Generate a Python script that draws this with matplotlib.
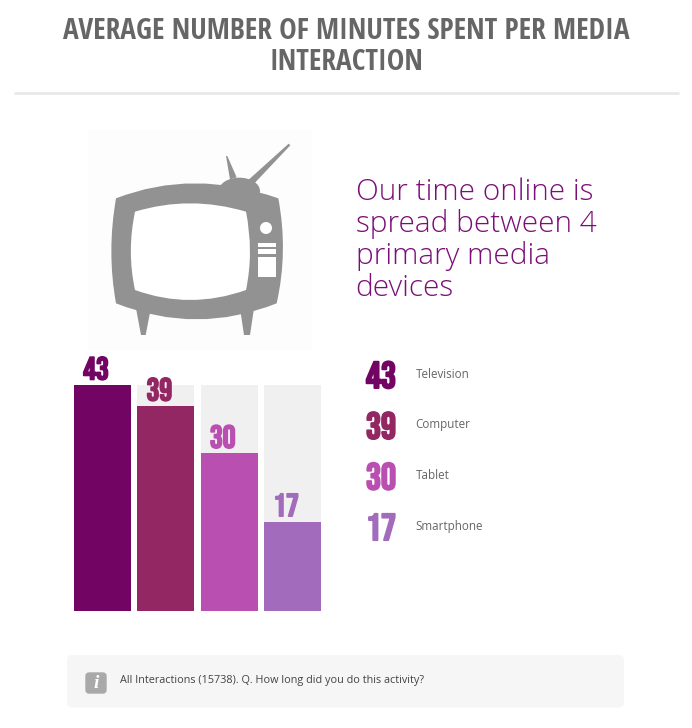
import matplotlib
matplotlib.use("Agg")
import matplotlib.pyplot as plt
import matplotlib.patheffects as pe
from matplotlib.patches import Polygon, Circle, Rectangle, PathPatch, FancyBboxPatch, Ellipse
from matplotlib.path import Path

categories = ["Television", "Computer", "Tablet", "Smartphone"]
values = [43, 39, 30, 17]
colors = ["#720464", "#932763", "#b94fb0", "#a36bbc"]
track = "#f0f0f0"
title = "AVERAGE NUMBER OF MINUTES SPENT PER MEDIA\nINTERACTION"
headline = "Our time online is\nspread between 4\nprimary media\ndevices"
footnote = "All Interactions (15738). Q. How long did you do this activity?"

W, H = 692, 728
fig = plt.figure(figsize=(W / 100, H / 100), dpi=100, facecolor="white")
bg = fig.add_axes([0, 0, 1, 1])
bg.set_xlim(0, W); bg.set_ylim(H, 0); bg.axis("off")

bg.text(346.5, 47, title, ha="center", va="center", family="Open Sans Condensed", weight="bold",
        fontsize=21.2, color="#666666", linespacing=1.08)
bg.plot([14, 679], [93, 93], color="#e8e8e8", lw=2, solid_capstyle="butt")

# television icon (zoomed crop coordinates -> pixels)
def z(pts):
    return [(x / 3 + 80, y / 3 + 130) for x, y in pts]
grey = "#929292"
bg.add_patch(Rectangle((88, 130), 224, 220, fc="#fdfdfd", ec="none"))
C3 = Path.CURVE3
outer = z([(108, 205), (340, 115), (595, 205), (625, 365), (590, 520), (350, 616), (108, 520), (80, 365), (108, 205)])
inner = z([(165, 245), (330, 195), (498, 245), (522, 365), (498, 480), (330, 540), (165, 480), (140, 365), (165, 245)])
codes = [Path.MOVETO, C3, C3, C3, C3, C3, C3, C3, C3]
for pts, fc in ((outer, grey), (inner, "white")):
    bg.add_patch(PathPatch(Path(pts, codes), fc=fc, ec="none", zorder=3 if fc == grey else 4))
bg.add_patch(Ellipse((478 / 3 + 80, 183 / 3 + 130), 124 / 3, 80 / 3, fc=grey, ec="none", zorder=3))
for poly in ([(438, 78), (442, 78), (470, 142), (450, 148)],
             [(626, 41), (631, 46), (525, 158), (505, 150)],
             [(168, 535), (210, 548), (197, 615), (183, 615)],
             [(482, 548), (522, 535), (510, 615), (492, 615)]):
    bg.add_patch(Polygon(z(poly), fc=grey, ec="none", zorder=3))
bg.add_patch(Circle(z([(558, 294)])[0], 6, fc="white", ec="none", zorder=4))
for y0, y1 in ((340, 352), (358, 371), (380, 442)):
    (x0, yy), = z([(535, y0)])
    bg.add_patch(Rectangle((x0, yy), 52 / 3, (y1 - y0) / 3, fc="white", ec="none", zorder=4))

bg.text(355.5, 240, headline, ha="left", va="center", family="Open Sans", weight="light",
        fontsize=21.4, color="#7b0f78", linespacing=1.1)

# bars
ax = fig.add_axes([74 / W, 1 - 611 / H, 247 / W, 226 / H])
ax.set_xlim(-0.45, 3.45); ax.set_ylim(0, 43); ax.axis("off")
xs = range(len(values))
ax.bar(xs, [max(values)] * len(values), width=0.9, color=track, zorder=1)
ax.bar(xs, values, width=0.9, color=colors, zorder=2)

for i, (v, c) in enumerate(zip(values, colors)):
    ax.annotate(str(v), (i, v), xytext=(-6.5, 5.5), textcoords="offset pixels",
                ha="center", va="bottom", family="Bebas Neue", fontsize=23, color=c, zorder=3,
                annotation_clip=False,
                path_effects=[pe.withStroke(linewidth=1.2, foreground=c)])

# legend list
for i, (cat, v, c) in enumerate(zip(categories, values, colors)):
    y = 374 + i * 50.7
    bg.text(381, y + 0.5, str(v), ha="center", va="center", family="Bebas Neue", fontsize=27, color=c,
            path_effects=[pe.withStroke(linewidth=1.4, foreground=c)])
    bg.text(415.5, y, cat, ha="left", va="center", family="Open Sans", fontsize=8.4, color="#666666")

# footer
bg.add_patch(FancyBboxPatch((69, 657), 553, 48.5, boxstyle="round,pad=0,rounding_size=3",
                            fc="#f6f6f6", ec="#f6f6f6", lw=3))
bg.add_patch(FancyBboxPatch((86, 673), 20, 20, boxstyle="round,pad=0,rounding_size=3",
                            fc="#a9a9a9", ec="#a9a9a9", lw=1))
bg.text(96, 683.5, "i", ha="center", va="center", family="Liberation Serif", style="italic", weight="bold",
        fontsize=14, color="white")
bg.text(119.5, 681, footnote, ha="left", va="center", family="Open Sans", fontsize=7.8, color="#444444")

fig.savefig("out.png", dpi=100, facecolor="white")
